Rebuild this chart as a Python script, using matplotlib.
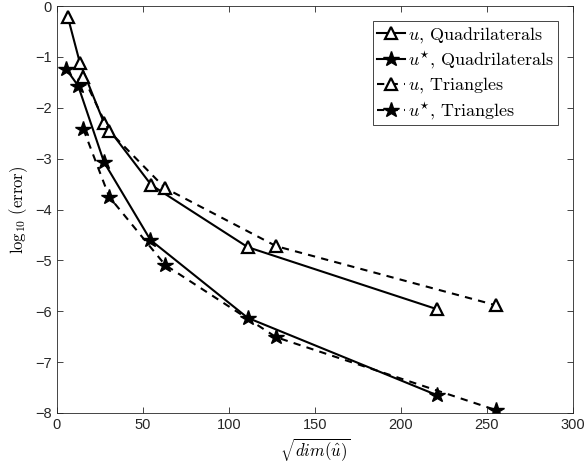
"""Convergence of error vs sqrt(dim) for quads and triangles."""
import matplotlib
matplotlib.use("Agg")
import matplotlib.pyplot as plt

plt.rcParams["mathtext.fontset"] = "cm"
plt.rcParams["font.family"] = ["Liberation Sans", "DejaVu Sans"]

# Quadrilateral meshes
quad_x = [6.5, 13.5, 27.5, 55, 111, 221]
quad_u = [-0.22, -1.12, -2.30, -3.52, -4.74, -5.96]
quad_x_star = [5.5, 12.5, 27.5, 54.5, 111, 221]
quad_u_star = [-1.24, -1.57, -3.07, -4.60, -6.13, -7.65]

# Triangle meshes
tri_x = [15.5, 30.5, 63, 127.5, 255]
tri_u = [-1.40, -2.46, -3.58, -4.72, -5.88]
tri_u_star = [-2.42, -3.75, -5.09, -6.51, -7.94]

AX_COLOR = "#262626"


def main():
    fig = plt.figure(figsize=(5.86, 4.71), dpi=100)
    ax = fig.add_axes([56.7 / 586, 1 - 413 / 471, (573 - 56.7) / 586, (413 - 6) / 471])

    tri_kw = dict(marker="^", markersize=8.5, markerfacecolor="white",
                  markeredgecolor="black", markeredgewidth=1.6, color="black", lw=1.5)
    star_kw = dict(marker="*", markersize=11.5, markerfacecolor="black",
                   markeredgecolor="black", color="black", lw=1.5)

    ax.plot(quad_x, quad_u, ls="-", label=r"$u$, Quadrilaterals", **tri_kw)
    ax.plot(quad_x_star, quad_u_star, ls="-",
            label=r"$u^{\star}$, Quadrilaterals", **star_kw)
    ax.plot(tri_x, tri_u, ls=(0, (3.5, 3)), label=r"$u$, Triangles", **tri_kw)
    ax.plot(tri_x, tri_u_star, ls=(0, (3.5, 3)),
            label=r"$u^{\star}$, Triangles", **star_kw)

    ax.set_xlim(0, 300)
    ax.set_ylim(-8, 0)
    ax.set_xticks(range(0, 301, 50))
    ax.set_yticks(range(-8, 1))
    ax.tick_params(direction="in", top=True, right=True, length=4,
                   labelsize=10.5, colors=AX_COLOR, width=0.6)
    for sp in ax.spines.values():
        sp.set_color(AX_COLOR)
        sp.set_linewidth(0.6)

    ax.set_xlabel(r"$\sqrt{dim(\hat{u})}$", fontsize=12, labelpad=3)
    ax.set_ylabel(r"$\log_{10}\,(\mathrm{error})$", fontsize=12, labelpad=4)

    leg = ax.legend(loc="upper right", prop={"family": "cmr10", "size": 13},
                    handlelength=1.55, handletextpad=0.15, borderpad=0.2,
                    labelspacing=0.25, fancybox=False, framealpha=1,
                    edgecolor=AX_COLOR, borderaxespad=0.85)
    leg.get_frame().set_linewidth(0.6)

    fig.savefig("out.png", dpi=100)


if __name__ == "__main__":
    main()
